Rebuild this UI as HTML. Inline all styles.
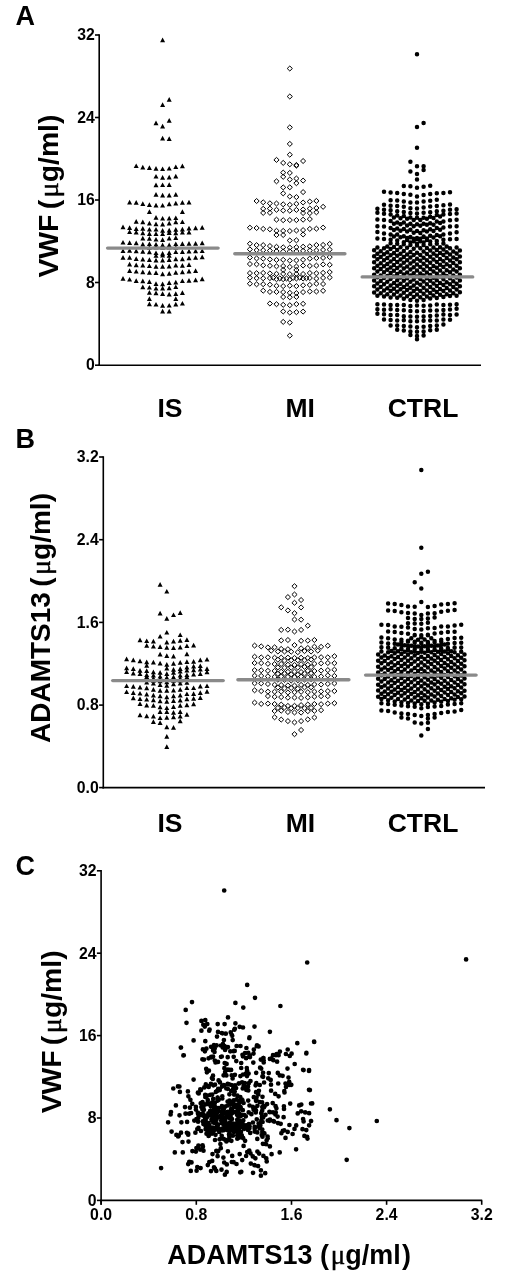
<!DOCTYPE html>
<html><head><meta charset="utf-8"><style>
html,body{margin:0;padding:0;background:#fff;}
svg{display:block;}
text{font-family:"Liberation Sans",Arial,sans-serif;font-weight:bold;fill:#000;}
.mu{font-family:"Liberation Serif","DejaVu Serif",serif;font-weight:normal;stroke:#000;stroke-width:0.45px;}
</style></head><body>
<svg width="511" height="1280" viewBox="0 0 511 1280">
<rect width="511" height="1280" fill="#fff"/>
<line x1="99.2" y1="34.2" x2="99.2" y2="366.0" stroke="#000" stroke-width="1.6"/>
<line x1="98.4" y1="365.2" x2="481.0" y2="365.2" stroke="#000" stroke-width="1.6"/>
<line x1="95.0" y1="35.0" x2="99.2" y2="35.0" stroke="#000" stroke-width="1.6"/>
<text x="94.8" y="40.2" font-size="15.8" text-anchor="end" >32</text>
<line x1="95.0" y1="117.5" x2="99.2" y2="117.5" stroke="#000" stroke-width="1.6"/>
<text x="94.8" y="122.8" font-size="15.8" text-anchor="end" >24</text>
<line x1="95.0" y1="200.0" x2="99.2" y2="200.0" stroke="#000" stroke-width="1.6"/>
<text x="94.8" y="205.2" font-size="15.8" text-anchor="end" >16</text>
<line x1="95.0" y1="282.5" x2="99.2" y2="282.5" stroke="#000" stroke-width="1.6"/>
<text x="94.8" y="287.8" font-size="15.8" text-anchor="end" >8</text>
<line x1="95.0" y1="365.2" x2="99.2" y2="365.2" stroke="#000" stroke-width="1.6"/>
<text x="94.8" y="370.4" font-size="15.8" text-anchor="end" >0</text>
<text x="15.5" y="24.6" font-size="27" text-anchor="start" >A</text>
<text x="170.0" y="416.6" font-size="26.5" text-anchor="middle" >IS</text>
<text x="300.2" y="416.6" font-size="26.5" text-anchor="middle" >MI</text>
<text x="423.0" y="416.6" font-size="26.5" text-anchor="middle" >CTRL</text>
<text transform="translate(57.6,196.1) rotate(-90)" font-size="28.3" text-anchor="middle">VWF <tspan dx="-2.5">(</tspan><tspan class="mu" dx="2.5">μ</tspan>g/ml)</text>
<path d="M162.6 37.5l2.5 4.7h-5zM169.2 97.1l2.5 4.7h-5zM162.6 102.3l2.5 4.7h-5zM169.2 118.0l2.5 4.7h-5zM156.0 120.6l2.5 4.7h-5zM162.6 123.8l2.5 4.7h-5zM162.6 135.7l2.5 4.7h-5zM169.2 136.2l2.5 4.7h-5zM136.2 163.4l2.5 4.7h-5zM142.8 164.7l2.5 4.7h-5zM149.4 165.2l2.5 4.7h-5zM156.0 166.1l2.5 4.7h-5zM162.6 166.4l2.5 4.7h-5zM169.2 165.9l2.5 4.7h-5zM175.8 164.4l2.5 4.7h-5zM182.4 163.6l2.5 4.7h-5zM156.0 173.9l2.5 4.7h-5zM162.6 175.1l2.5 4.7h-5zM169.2 174.7l2.5 4.7h-5zM175.8 173.7l2.5 4.7h-5zM156.0 182.5l2.5 4.7h-5zM162.6 182.4l2.5 4.7h-5zM169.2 182.3l2.5 4.7h-5zM156.0 192.1l2.5 4.7h-5zM162.6 192.8l2.5 4.7h-5zM169.2 192.7l2.5 4.7h-5zM175.8 192.1l2.5 4.7h-5zM129.6 199.8l2.5 4.7h-5zM136.2 200.0l2.5 4.7h-5zM142.8 201.3l2.5 4.7h-5zM149.4 202.2l2.5 4.7h-5zM156.0 202.8l2.5 4.7h-5zM162.6 202.9l2.5 4.7h-5zM169.2 201.6l2.5 4.7h-5zM175.8 200.7l2.5 4.7h-5zM182.4 200.0l2.5 4.7h-5zM189.0 199.7l2.5 4.7h-5zM149.4 209.3l2.5 4.7h-5zM182.4 209.2l2.5 4.7h-5zM156.0 215.1l2.5 4.7h-5zM162.6 215.9l2.5 4.7h-5zM169.2 215.7l2.5 4.7h-5zM175.8 215.4l2.5 4.7h-5zM136.2 219.1l2.5 4.7h-5zM142.8 219.5l2.5 4.7h-5zM149.4 220.7l2.5 4.7h-5zM156.0 221.5l2.5 4.7h-5zM162.6 221.8l2.5 4.7h-5zM169.2 220.8l2.5 4.7h-5zM175.8 219.6l2.5 4.7h-5zM182.4 219.4l2.5 4.7h-5zM123.0 224.5l2.5 4.7h-5zM129.6 225.3l2.5 4.7h-5zM136.2 226.2l2.5 4.7h-5zM142.8 226.1l2.5 4.7h-5zM149.4 226.9l2.5 4.7h-5zM156.0 226.9l2.5 4.7h-5zM162.6 228.1l2.5 4.7h-5zM169.2 227.7l2.5 4.7h-5zM175.8 227.0l2.5 4.7h-5zM182.4 226.8l2.5 4.7h-5zM189.0 225.7l2.5 4.7h-5zM195.6 225.6l2.5 4.7h-5zM202.2 225.0l2.5 4.7h-5zM129.6 229.4l2.5 4.7h-5zM136.2 229.7l2.5 4.7h-5zM142.8 230.6l2.5 4.7h-5zM149.4 231.2l2.5 4.7h-5zM156.0 231.2l2.5 4.7h-5zM162.6 231.4l2.5 4.7h-5zM169.2 230.3l2.5 4.7h-5zM175.8 230.5l2.5 4.7h-5zM182.4 229.9l2.5 4.7h-5zM189.0 229.8l2.5 4.7h-5zM142.8 235.7l2.5 4.7h-5zM149.4 236.0l2.5 4.7h-5zM156.0 236.9l2.5 4.7h-5zM162.6 237.2l2.5 4.7h-5zM169.2 235.7l2.5 4.7h-5zM175.8 235.3l2.5 4.7h-5zM123.0 239.9l2.5 4.7h-5zM129.6 240.2l2.5 4.7h-5zM136.2 240.6l2.5 4.7h-5zM142.8 241.7l2.5 4.7h-5zM149.4 241.4l2.5 4.7h-5zM156.0 241.9l2.5 4.7h-5zM162.6 242.5l2.5 4.7h-5zM169.2 242.6l2.5 4.7h-5zM175.8 241.4l2.5 4.7h-5zM182.4 241.3l2.5 4.7h-5zM189.0 241.0l2.5 4.7h-5zM195.6 241.0l2.5 4.7h-5zM202.2 240.5l2.5 4.7h-5zM149.4 245.0l2.5 4.7h-5zM156.0 244.7l2.5 4.7h-5zM162.6 245.1l2.5 4.7h-5zM169.2 244.8l2.5 4.7h-5zM175.8 245.0l2.5 4.7h-5zM123.0 248.4l2.5 4.7h-5zM129.6 248.1l2.5 4.7h-5zM136.2 248.6l2.5 4.7h-5zM142.8 249.1l2.5 4.7h-5zM149.4 249.6l2.5 4.7h-5zM156.0 250.4l2.5 4.7h-5zM162.6 251.0l2.5 4.7h-5zM169.2 250.2l2.5 4.7h-5zM175.8 249.4l2.5 4.7h-5zM182.4 249.3l2.5 4.7h-5zM189.0 248.8l2.5 4.7h-5zM195.6 248.5l2.5 4.7h-5zM202.2 248.4l2.5 4.7h-5zM156.0 253.1l2.5 4.7h-5zM162.6 252.9l2.5 4.7h-5zM169.2 253.0l2.5 4.7h-5zM123.0 255.1l2.5 4.7h-5zM129.6 255.0l2.5 4.7h-5zM136.2 256.3l2.5 4.7h-5zM142.8 256.7l2.5 4.7h-5zM149.4 257.3l2.5 4.7h-5zM156.0 257.7l2.5 4.7h-5zM162.6 257.8l2.5 4.7h-5zM169.2 257.3l2.5 4.7h-5zM175.8 256.5l2.5 4.7h-5zM182.4 256.5l2.5 4.7h-5zM189.0 255.5l2.5 4.7h-5zM195.6 255.0l2.5 4.7h-5zM202.2 254.6l2.5 4.7h-5zM129.6 261.7l2.5 4.7h-5zM136.2 262.5l2.5 4.7h-5zM142.8 262.8l2.5 4.7h-5zM149.4 263.4l2.5 4.7h-5zM156.0 264.1l2.5 4.7h-5zM162.6 264.1l2.5 4.7h-5zM169.2 263.7l2.5 4.7h-5zM175.8 262.8l2.5 4.7h-5zM182.4 263.0l2.5 4.7h-5zM189.0 262.2l2.5 4.7h-5zM129.6 268.3l2.5 4.7h-5zM136.2 268.9l2.5 4.7h-5zM142.8 269.5l2.5 4.7h-5zM149.4 270.0l2.5 4.7h-5zM156.0 270.3l2.5 4.7h-5zM162.6 271.5l2.5 4.7h-5zM169.2 271.1l2.5 4.7h-5zM175.8 270.1l2.5 4.7h-5zM182.4 269.6l2.5 4.7h-5zM189.0 268.7l2.5 4.7h-5zM195.6 268.3l2.5 4.7h-5zM123.0 276.0l2.5 4.7h-5zM129.6 276.9l2.5 4.7h-5zM136.2 278.3l2.5 4.7h-5zM142.8 278.6l2.5 4.7h-5zM149.4 279.3l2.5 4.7h-5zM156.0 281.2l2.5 4.7h-5zM162.6 281.6l2.5 4.7h-5zM169.2 280.3l2.5 4.7h-5zM175.8 279.8l2.5 4.7h-5zM182.4 278.4l2.5 4.7h-5zM189.0 278.0l2.5 4.7h-5zM195.6 277.6l2.5 4.7h-5zM202.2 276.6l2.5 4.7h-5zM142.8 284.5l2.5 4.7h-5zM149.4 284.9l2.5 4.7h-5zM156.0 285.9l2.5 4.7h-5zM162.6 285.7l2.5 4.7h-5zM169.2 285.5l2.5 4.7h-5zM175.8 284.4l2.5 4.7h-5zM149.4 290.1l2.5 4.7h-5zM156.0 290.5l2.5 4.7h-5zM162.6 291.3l2.5 4.7h-5zM169.2 291.8l2.5 4.7h-5zM175.8 291.2l2.5 4.7h-5zM182.4 290.2l2.5 4.7h-5zM149.4 296.2l2.5 4.7h-5zM175.8 296.2l2.5 4.7h-5zM149.4 301.6l2.5 4.7h-5zM156.0 301.9l2.5 4.7h-5zM162.6 303.1l2.5 4.7h-5zM169.2 302.9l2.5 4.7h-5zM175.8 301.7l2.5 4.7h-5zM182.4 300.9l2.5 4.7h-5zM162.6 308.7l2.5 4.7h-5zM169.2 308.7l2.5 4.7h-5z" fill="#000"/>
<path d="M289.8 66.0l2.6 2.5l-2.6 2.5l-2.6-2.5zM289.8 94.0l2.6 2.5l-2.6 2.5l-2.6-2.5zM289.8 124.9l2.6 2.5l-2.6 2.5l-2.6-2.5zM289.8 141.4l2.6 2.5l-2.6 2.5l-2.6-2.5zM289.8 152.2l2.6 2.5l-2.6 2.5l-2.6-2.5zM276.5 157.4l2.6 2.5l-2.6 2.5l-2.6-2.5zM283.2 160.4l2.6 2.5l-2.6 2.5l-2.6-2.5zM289.8 161.8l2.6 2.5l-2.6 2.5l-2.6-2.5zM296.4 162.5l2.6 2.5l-2.6 2.5l-2.6-2.5zM296.4 163.1l2.6 2.5l-2.6 2.5l-2.6-2.5zM303.1 158.5l2.6 2.5l-2.6 2.5l-2.6-2.5zM283.2 170.1l2.6 2.5l-2.6 2.5l-2.6-2.5zM289.8 170.4l2.6 2.5l-2.6 2.5l-2.6-2.5zM283.2 174.3l2.6 2.5l-2.6 2.5l-2.6-2.5zM296.4 176.0l2.6 2.5l-2.6 2.5l-2.6-2.5zM289.8 177.0l2.6 2.5l-2.6 2.5l-2.6-2.5zM276.5 178.8l2.6 2.5l-2.6 2.5l-2.6-2.5zM303.1 178.1l2.6 2.5l-2.6 2.5l-2.6-2.5zM296.4 180.7l2.6 2.5l-2.6 2.5l-2.6-2.5zM283.2 184.9l2.6 2.5l-2.6 2.5l-2.6-2.5zM289.8 184.8l2.6 2.5l-2.6 2.5l-2.6-2.5zM303.1 189.6l2.6 2.5l-2.6 2.5l-2.6-2.5zM283.2 190.9l2.6 2.5l-2.6 2.5l-2.6-2.5zM289.8 194.0l2.6 2.5l-2.6 2.5l-2.6-2.5zM296.4 194.6l2.6 2.5l-2.6 2.5l-2.6-2.5zM256.6 198.5l2.6 2.5l-2.6 2.5l-2.6-2.5zM263.2 199.8l2.6 2.5l-2.6 2.5l-2.6-2.5zM269.9 200.8l2.6 2.5l-2.6 2.5l-2.6-2.5zM276.5 201.0l2.6 2.5l-2.6 2.5l-2.6-2.5zM283.2 201.8l2.6 2.5l-2.6 2.5l-2.6-2.5zM289.8 202.3l2.6 2.5l-2.6 2.5l-2.6-2.5zM296.4 201.3l2.6 2.5l-2.6 2.5l-2.6-2.5zM303.1 200.0l2.6 2.5l-2.6 2.5l-2.6-2.5zM309.8 199.1l2.6 2.5l-2.6 2.5l-2.6-2.5zM316.4 198.4l2.6 2.5l-2.6 2.5l-2.6-2.5zM323.1 204.3l2.6 2.5l-2.6 2.5l-2.6-2.5zM263.2 206.3l2.6 2.5l-2.6 2.5l-2.6-2.5zM269.9 206.1l2.6 2.5l-2.6 2.5l-2.6-2.5zM276.5 207.3l2.6 2.5l-2.6 2.5l-2.6-2.5zM283.2 208.0l2.6 2.5l-2.6 2.5l-2.6-2.5zM289.8 208.2l2.6 2.5l-2.6 2.5l-2.6-2.5zM296.4 207.4l2.6 2.5l-2.6 2.5l-2.6-2.5zM303.1 207.0l2.6 2.5l-2.6 2.5l-2.6-2.5zM309.8 206.1l2.6 2.5l-2.6 2.5l-2.6-2.5zM316.4 205.5l2.6 2.5l-2.6 2.5l-2.6-2.5zM263.2 210.4l2.6 2.5l-2.6 2.5l-2.6-2.5zM269.9 210.3l2.6 2.5l-2.6 2.5l-2.6-2.5zM303.1 210.5l2.6 2.5l-2.6 2.5l-2.6-2.5zM309.8 210.6l2.6 2.5l-2.6 2.5l-2.6-2.5zM316.4 209.8l2.6 2.5l-2.6 2.5l-2.6-2.5zM276.5 217.2l2.6 2.5l-2.6 2.5l-2.6-2.5zM283.2 217.7l2.6 2.5l-2.6 2.5l-2.6-2.5zM289.8 217.6l2.6 2.5l-2.6 2.5l-2.6-2.5zM296.4 217.6l2.6 2.5l-2.6 2.5l-2.6-2.5zM303.1 217.2l2.6 2.5l-2.6 2.5l-2.6-2.5zM309.8 216.6l2.6 2.5l-2.6 2.5l-2.6-2.5zM249.9 225.2l2.6 2.5l-2.6 2.5l-2.6-2.5zM256.6 225.5l2.6 2.5l-2.6 2.5l-2.6-2.5zM263.2 226.4l2.6 2.5l-2.6 2.5l-2.6-2.5zM269.9 226.8l2.6 2.5l-2.6 2.5l-2.6-2.5zM276.5 228.3l2.6 2.5l-2.6 2.5l-2.6-2.5zM283.2 228.4l2.6 2.5l-2.6 2.5l-2.6-2.5zM289.8 228.5l2.6 2.5l-2.6 2.5l-2.6-2.5zM296.4 228.0l2.6 2.5l-2.6 2.5l-2.6-2.5zM303.1 227.6l2.6 2.5l-2.6 2.5l-2.6-2.5zM309.8 226.4l2.6 2.5l-2.6 2.5l-2.6-2.5zM316.4 226.2l2.6 2.5l-2.6 2.5l-2.6-2.5zM323.1 225.1l2.6 2.5l-2.6 2.5l-2.6-2.5zM276.5 232.5l2.6 2.5l-2.6 2.5l-2.6-2.5zM283.2 232.5l2.6 2.5l-2.6 2.5l-2.6-2.5zM303.1 232.0l2.6 2.5l-2.6 2.5l-2.6-2.5zM289.8 238.0l2.6 2.5l-2.6 2.5l-2.6-2.5zM296.4 237.8l2.6 2.5l-2.6 2.5l-2.6-2.5zM249.9 241.2l2.6 2.5l-2.6 2.5l-2.6-2.5zM256.6 242.6l2.6 2.5l-2.6 2.5l-2.6-2.5zM263.2 242.6l2.6 2.5l-2.6 2.5l-2.6-2.5zM269.9 243.5l2.6 2.5l-2.6 2.5l-2.6-2.5zM276.5 244.3l2.6 2.5l-2.6 2.5l-2.6-2.5zM283.2 244.8l2.6 2.5l-2.6 2.5l-2.6-2.5zM289.8 245.1l2.6 2.5l-2.6 2.5l-2.6-2.5zM296.4 244.7l2.6 2.5l-2.6 2.5l-2.6-2.5zM303.1 244.2l2.6 2.5l-2.6 2.5l-2.6-2.5zM309.8 243.8l2.6 2.5l-2.6 2.5l-2.6-2.5zM316.4 242.5l2.6 2.5l-2.6 2.5l-2.6-2.5zM323.1 242.4l2.6 2.5l-2.6 2.5l-2.6-2.5zM329.7 241.4l2.6 2.5l-2.6 2.5l-2.6-2.5zM249.9 246.9l2.6 2.5l-2.6 2.5l-2.6-2.5zM256.6 247.7l2.6 2.5l-2.6 2.5l-2.6-2.5zM263.2 247.7l2.6 2.5l-2.6 2.5l-2.6-2.5zM269.9 248.1l2.6 2.5l-2.6 2.5l-2.6-2.5zM276.5 248.6l2.6 2.5l-2.6 2.5l-2.6-2.5zM283.2 249.0l2.6 2.5l-2.6 2.5l-2.6-2.5zM289.8 248.8l2.6 2.5l-2.6 2.5l-2.6-2.5zM296.4 248.7l2.6 2.5l-2.6 2.5l-2.6-2.5zM303.1 248.3l2.6 2.5l-2.6 2.5l-2.6-2.5zM309.8 248.0l2.6 2.5l-2.6 2.5l-2.6-2.5zM316.4 247.9l2.6 2.5l-2.6 2.5l-2.6-2.5zM323.1 247.4l2.6 2.5l-2.6 2.5l-2.6-2.5zM329.7 247.1l2.6 2.5l-2.6 2.5l-2.6-2.5zM249.9 255.0l2.6 2.5l-2.6 2.5l-2.6-2.5zM256.6 255.9l2.6 2.5l-2.6 2.5l-2.6-2.5zM263.2 256.2l2.6 2.5l-2.6 2.5l-2.6-2.5zM269.9 256.9l2.6 2.5l-2.6 2.5l-2.6-2.5zM276.5 257.4l2.6 2.5l-2.6 2.5l-2.6-2.5zM283.2 257.3l2.6 2.5l-2.6 2.5l-2.6-2.5zM289.8 258.1l2.6 2.5l-2.6 2.5l-2.6-2.5zM296.4 257.9l2.6 2.5l-2.6 2.5l-2.6-2.5zM303.1 257.3l2.6 2.5l-2.6 2.5l-2.6-2.5zM309.8 256.1l2.6 2.5l-2.6 2.5l-2.6-2.5zM316.4 255.6l2.6 2.5l-2.6 2.5l-2.6-2.5zM323.1 255.4l2.6 2.5l-2.6 2.5l-2.6-2.5zM329.7 254.6l2.6 2.5l-2.6 2.5l-2.6-2.5zM249.9 261.5l2.6 2.5l-2.6 2.5l-2.6-2.5zM256.6 261.8l2.6 2.5l-2.6 2.5l-2.6-2.5zM263.2 262.8l2.6 2.5l-2.6 2.5l-2.6-2.5zM269.9 263.3l2.6 2.5l-2.6 2.5l-2.6-2.5zM276.5 263.8l2.6 2.5l-2.6 2.5l-2.6-2.5zM283.2 263.5l2.6 2.5l-2.6 2.5l-2.6-2.5zM289.8 264.4l2.6 2.5l-2.6 2.5l-2.6-2.5zM296.4 264.0l2.6 2.5l-2.6 2.5l-2.6-2.5zM303.1 263.0l2.6 2.5l-2.6 2.5l-2.6-2.5zM309.8 263.4l2.6 2.5l-2.6 2.5l-2.6-2.5zM316.4 263.1l2.6 2.5l-2.6 2.5l-2.6-2.5zM323.1 261.9l2.6 2.5l-2.6 2.5l-2.6-2.5zM329.7 262.3l2.6 2.5l-2.6 2.5l-2.6-2.5zM283.2 267.4l2.6 2.5l-2.6 2.5l-2.6-2.5zM296.4 267.5l2.6 2.5l-2.6 2.5l-2.6-2.5zM249.9 270.6l2.6 2.5l-2.6 2.5l-2.6-2.5zM256.6 270.7l2.6 2.5l-2.6 2.5l-2.6-2.5zM263.2 270.4l2.6 2.5l-2.6 2.5l-2.6-2.5zM269.9 270.9l2.6 2.5l-2.6 2.5l-2.6-2.5zM276.5 271.3l2.6 2.5l-2.6 2.5l-2.6-2.5zM283.2 271.4l2.6 2.5l-2.6 2.5l-2.6-2.5zM289.8 271.6l2.6 2.5l-2.6 2.5l-2.6-2.5zM296.4 271.4l2.6 2.5l-2.6 2.5l-2.6-2.5zM303.1 271.5l2.6 2.5l-2.6 2.5l-2.6-2.5zM309.8 270.5l2.6 2.5l-2.6 2.5l-2.6-2.5zM316.4 270.8l2.6 2.5l-2.6 2.5l-2.6-2.5zM323.1 270.3l2.6 2.5l-2.6 2.5l-2.6-2.5zM329.7 269.6l2.6 2.5l-2.6 2.5l-2.6-2.5zM249.9 275.2l2.6 2.5l-2.6 2.5l-2.6-2.5zM256.6 275.7l2.6 2.5l-2.6 2.5l-2.6-2.5zM263.2 275.8l2.6 2.5l-2.6 2.5l-2.6-2.5zM269.9 275.6l2.6 2.5l-2.6 2.5l-2.6-2.5zM276.5 276.7l2.6 2.5l-2.6 2.5l-2.6-2.5zM283.2 276.7l2.6 2.5l-2.6 2.5l-2.6-2.5zM289.8 277.1l2.6 2.5l-2.6 2.5l-2.6-2.5zM296.4 276.0l2.6 2.5l-2.6 2.5l-2.6-2.5zM303.1 276.0l2.6 2.5l-2.6 2.5l-2.6-2.5zM309.8 275.5l2.6 2.5l-2.6 2.5l-2.6-2.5zM316.4 276.1l2.6 2.5l-2.6 2.5l-2.6-2.5zM323.1 275.4l2.6 2.5l-2.6 2.5l-2.6-2.5zM329.7 275.0l2.6 2.5l-2.6 2.5l-2.6-2.5zM273.2 275.2l2.6 2.5l-2.6 2.5l-2.6-2.5zM279.8 275.9l2.6 2.5l-2.6 2.5l-2.6-2.5zM286.5 276.0l2.6 2.5l-2.6 2.5l-2.6-2.5zM293.1 275.4l2.6 2.5l-2.6 2.5l-2.6-2.5zM299.8 275.1l2.6 2.5l-2.6 2.5l-2.6-2.5zM306.4 275.7l2.6 2.5l-2.6 2.5l-2.6-2.5zM249.9 281.2l2.6 2.5l-2.6 2.5l-2.6-2.5zM256.6 281.8l2.6 2.5l-2.6 2.5l-2.6-2.5zM263.2 281.7l2.6 2.5l-2.6 2.5l-2.6-2.5zM269.9 282.2l2.6 2.5l-2.6 2.5l-2.6-2.5zM276.5 283.3l2.6 2.5l-2.6 2.5l-2.6-2.5zM283.2 283.6l2.6 2.5l-2.6 2.5l-2.6-2.5zM289.8 283.2l2.6 2.5l-2.6 2.5l-2.6-2.5zM296.4 283.6l2.6 2.5l-2.6 2.5l-2.6-2.5zM303.1 282.8l2.6 2.5l-2.6 2.5l-2.6-2.5zM309.8 282.4l2.6 2.5l-2.6 2.5l-2.6-2.5zM316.4 281.2l2.6 2.5l-2.6 2.5l-2.6-2.5zM323.1 281.5l2.6 2.5l-2.6 2.5l-2.6-2.5zM263.2 288.2l2.6 2.5l-2.6 2.5l-2.6-2.5zM269.9 289.4l2.6 2.5l-2.6 2.5l-2.6-2.5zM276.5 289.4l2.6 2.5l-2.6 2.5l-2.6-2.5zM283.2 289.6l2.6 2.5l-2.6 2.5l-2.6-2.5zM289.8 290.3l2.6 2.5l-2.6 2.5l-2.6-2.5zM296.4 290.6l2.6 2.5l-2.6 2.5l-2.6-2.5zM303.1 289.6l2.6 2.5l-2.6 2.5l-2.6-2.5zM309.8 289.0l2.6 2.5l-2.6 2.5l-2.6-2.5zM316.4 289.0l2.6 2.5l-2.6 2.5l-2.6-2.5zM323.1 288.3l2.6 2.5l-2.6 2.5l-2.6-2.5zM283.2 294.5l2.6 2.5l-2.6 2.5l-2.6-2.5zM289.8 294.8l2.6 2.5l-2.6 2.5l-2.6-2.5zM296.4 294.4l2.6 2.5l-2.6 2.5l-2.6-2.5zM269.9 301.0l2.6 2.5l-2.6 2.5l-2.6-2.5zM276.5 301.7l2.6 2.5l-2.6 2.5l-2.6-2.5zM283.2 302.3l2.6 2.5l-2.6 2.5l-2.6-2.5zM289.8 302.7l2.6 2.5l-2.6 2.5l-2.6-2.5zM296.4 301.6l2.6 2.5l-2.6 2.5l-2.6-2.5zM303.1 301.3l2.6 2.5l-2.6 2.5l-2.6-2.5zM283.2 309.0l2.6 2.5l-2.6 2.5l-2.6-2.5zM289.8 310.1l2.6 2.5l-2.6 2.5l-2.6-2.5zM296.4 309.7l2.6 2.5l-2.6 2.5l-2.6-2.5zM303.1 309.1l2.6 2.5l-2.6 2.5l-2.6-2.5zM283.2 319.4l2.6 2.5l-2.6 2.5l-2.6-2.5zM289.8 320.1l2.6 2.5l-2.6 2.5l-2.6-2.5zM289.8 333.1l2.6 2.5l-2.6 2.5l-2.6-2.5z" fill="none" stroke="#000" stroke-width="1.0"/>
<path d="M417.0 54.2h0M423.6 123.0h0M417.0 126.9h0M417.0 147.7h0M410.4 161.7h0M417.0 166.2h0M423.6 166.3h0M423.6 170.1h0M410.4 171.5h0M417.0 174.1h0M417.0 179.6h0M403.8 186.1h0M410.4 186.3h0M417.0 187.7h0M423.6 186.7h0M430.2 185.8h0M384.0 191.8h0M390.6 192.6h0M397.2 193.1h0M403.8 194.1h0M410.4 194.8h0M417.0 196.4h0M423.6 195.0h0M430.2 194.1h0M436.8 193.2h0M443.4 193.1h0M450.0 192.2h0M390.6 200.2h0M397.2 200.6h0M403.8 201.5h0M410.4 202.4h0M417.0 202.5h0M423.6 201.4h0M430.2 200.8h0M436.8 199.8h0M384.0 204.8h0M390.6 205.7h0M397.2 206.1h0M403.8 206.7h0M410.4 208.2h0M417.0 208.4h0M423.6 207.6h0M430.2 206.4h0M436.8 206.0h0M443.4 205.2h0M450.0 204.4h0M377.4 208.7h0M384.0 209.8h0M390.6 210.2h0M397.2 211.3h0M403.8 211.9h0M410.4 213.1h0M417.0 213.6h0M423.6 212.7h0M430.2 212.2h0M436.8 211.2h0M443.4 210.7h0M450.0 209.8h0M456.6 209.2h0M377.4 304.3h0M384.0 304.6h0M390.6 305.1h0M397.2 304.9h0M403.8 305.1h0M410.4 306.1h0M417.0 305.5h0M423.6 305.8h0M430.2 305.4h0M436.8 304.5h0M443.4 305.0h0M450.0 304.8h0M456.6 304.2h0M377.4 309.3h0M384.0 309.7h0M390.6 309.3h0M397.2 310.0h0M403.8 310.3h0M410.4 310.9h0M417.0 311.2h0M423.6 310.9h0M430.2 310.4h0M436.8 310.4h0M443.4 309.9h0M450.0 309.6h0M456.6 308.8h0M377.4 313.8h0M384.0 314.3h0M390.6 315.0h0M397.2 315.1h0M403.8 316.2h0M410.4 316.4h0M417.0 316.8h0M423.6 316.4h0M430.2 316.1h0M436.8 315.5h0M443.4 314.6h0M450.0 315.0h0M456.6 314.5h0M384.0 319.5h0M390.6 319.9h0M397.2 320.5h0M403.8 320.3h0M410.4 321.3h0M417.0 321.3h0M423.6 320.7h0M430.2 320.5h0M436.8 320.5h0M443.4 319.6h0M450.0 319.7h0M390.6 325.5h0M397.2 325.5h0M403.8 325.9h0M410.4 326.5h0M417.0 327.2h0M423.6 326.8h0M430.2 326.1h0M436.8 325.6h0M443.4 324.6h0M397.2 329.7h0M403.8 330.5h0M410.4 331.5h0M417.0 331.7h0M423.6 331.4h0M430.2 330.2h0M436.8 329.7h0M410.4 335.0h0M417.0 336.0h0M423.6 335.4h0M417.0 339.2h0M377.4 212.7h0M384.0 213.8h0M390.6 214.6h0M397.2 215.5h0M403.8 216.0h0M410.4 217.6h0M417.0 217.7h0M423.6 217.7h0M430.2 216.8h0M436.8 215.0h0M443.4 214.6h0M450.0 214.1h0M456.6 213.4h0M377.4 219.4h0M384.0 220.1h0M390.6 220.9h0M397.2 222.4h0M403.8 222.6h0M410.4 223.8h0M417.0 224.2h0M423.6 223.7h0M430.2 223.3h0M436.8 221.6h0M443.4 221.5h0M450.0 220.3h0M456.6 219.8h0M377.4 226.2h0M384.0 226.5h0M390.6 228.0h0M397.2 228.5h0M403.8 228.9h0M410.4 229.7h0M417.0 231.0h0M423.6 230.2h0M430.2 229.2h0M436.8 228.1h0M443.4 227.5h0M450.0 226.6h0M456.6 226.3h0M377.4 232.0h0M384.0 233.6h0M390.6 234.5h0M397.2 234.6h0M403.8 236.3h0M410.4 236.9h0M417.0 238.0h0M423.6 236.5h0M430.2 235.7h0M436.8 234.9h0M443.4 234.6h0M450.0 233.4h0M456.6 232.3h0M377.4 238.4h0M384.0 239.1h0M390.6 239.7h0M397.2 240.6h0M403.8 242.2h0M410.4 242.5h0M417.0 244.0h0M423.6 242.4h0M430.2 241.6h0M436.8 241.0h0M443.4 239.8h0M450.0 239.2h0M456.6 238.9h0M393.9 217.4h0M400.5 218.2h0M407.1 218.8h0M413.7 220.0h0M420.3 220.0h0M426.9 218.8h0M433.5 218.1h0M440.1 216.6h0M393.9 223.7h0M400.5 224.3h0M407.1 225.5h0M413.7 226.2h0M420.3 225.8h0M426.9 224.8h0M433.5 224.8h0M440.1 223.1h0M393.9 230.0h0M400.5 230.7h0M407.1 231.5h0M413.7 232.8h0M420.3 233.0h0M426.9 231.5h0M433.5 231.0h0M440.1 229.8h0M393.9 236.6h0M400.5 237.3h0M407.1 237.9h0M413.7 238.7h0M420.3 238.8h0M426.9 238.6h0M433.5 237.4h0M440.1 236.2h0M410.4 237.2h0M417.0 239.3h0M423.6 237.0h0M407.1 240.0h0M413.7 241.3h0M420.3 241.3h0M426.9 240.1h0M390.6 243.2h0M397.2 243.7h0M403.8 244.3h0M410.4 244.9h0M417.0 245.6h0M423.6 245.0h0M430.2 244.3h0M436.8 243.8h0M443.4 243.4h0M387.3 246.5h0M393.9 246.9h0M400.5 247.2h0M407.1 247.8h0M413.7 248.7h0M420.3 248.2h0M426.9 247.9h0M433.5 247.6h0M440.1 247.3h0M446.7 246.4h0M377.4 247.4h0M384.0 248.2h0M390.6 249.1h0M397.2 250.0h0M403.8 251.1h0M410.4 251.9h0M417.0 252.7h0M423.6 251.4h0M430.2 250.6h0M436.8 250.1h0M443.4 249.4h0M450.0 248.3h0M456.6 247.6h0M374.1 250.2h0M380.7 251.2h0M387.3 252.3h0M393.9 253.0h0M400.5 253.8h0M407.1 254.6h0M413.7 255.0h0M420.3 254.9h0M426.9 254.1h0M433.5 253.6h0M440.1 252.9h0M446.7 252.3h0M453.3 251.4h0M459.9 250.6h0M377.4 253.7h0M384.0 254.3h0M390.6 255.2h0M397.2 255.7h0M403.8 257.0h0M410.4 257.5h0M417.0 258.8h0M423.6 257.8h0M430.2 256.7h0M436.8 255.8h0M443.4 255.0h0M450.0 254.4h0M456.6 253.6h0M374.1 256.3h0M380.7 257.0h0M387.3 258.1h0M393.9 258.9h0M400.5 259.5h0M407.1 260.2h0M413.7 261.2h0M420.3 260.8h0M426.9 260.2h0M433.5 259.6h0M440.1 259.1h0M446.7 258.1h0M453.3 257.5h0M459.9 256.5h0M377.4 259.3h0M384.0 260.2h0M390.6 261.4h0M397.2 262.1h0M403.8 262.7h0M410.4 263.4h0M417.0 264.5h0M423.6 263.8h0M430.2 262.8h0M436.8 261.9h0M443.4 261.3h0M450.0 260.6h0M456.6 259.3h0M374.1 262.2h0M380.7 263.2h0M387.3 264.0h0M393.9 264.9h0M400.5 265.4h0M407.1 266.5h0M413.7 267.3h0M420.3 267.1h0M426.9 266.2h0M433.5 265.9h0M440.1 264.7h0M446.7 264.2h0M453.3 263.1h0M459.9 262.3h0M377.4 265.7h0M384.0 266.2h0M390.6 267.4h0M397.2 268.0h0M403.8 268.6h0M410.4 269.5h0M417.0 270.5h0M423.6 269.8h0M430.2 269.1h0M436.8 267.8h0M443.4 267.1h0M450.0 266.2h0M456.6 265.8h0M374.1 268.3h0M380.7 269.0h0M387.3 269.8h0M393.9 270.7h0M400.5 271.8h0M407.1 272.6h0M413.7 273.3h0M420.3 273.4h0M426.9 272.6h0M433.5 271.5h0M440.1 270.6h0M446.7 270.3h0M453.3 269.4h0M459.9 268.2h0M377.4 271.6h0M384.0 272.3h0M390.6 273.1h0M397.2 273.9h0M403.8 274.6h0M410.4 275.4h0M417.0 276.4h0M423.6 275.6h0M430.2 275.1h0M436.8 273.8h0M443.4 273.4h0M450.0 272.2h0M456.6 271.4h0M374.1 274.7h0M380.7 275.5h0M387.3 276.0h0M393.9 276.5h0M400.5 277.6h0M407.1 278.3h0M413.7 279.4h0M420.3 278.9h0M426.9 278.3h0M433.5 277.8h0M440.1 276.5h0M446.7 276.0h0M453.3 275.5h0M459.9 274.7h0M377.4 277.2h0M384.0 278.1h0M390.6 278.9h0M397.2 280.3h0M403.8 280.7h0M410.4 281.8h0M417.0 282.7h0M423.6 281.6h0M430.2 280.7h0M436.8 280.3h0M443.4 279.2h0M450.0 278.2h0M456.6 277.6h0M374.1 280.4h0M380.7 281.1h0M387.3 281.7h0M393.9 283.0h0M400.5 283.8h0M407.1 284.4h0M413.7 285.4h0M420.3 284.8h0M426.9 284.2h0M433.5 283.6h0M440.1 283.1h0M446.7 282.3h0M453.3 281.2h0M459.9 280.4h0M377.4 283.5h0M384.0 284.3h0M390.6 285.4h0M397.2 285.8h0M403.8 287.0h0M410.4 287.8h0M417.0 288.7h0M423.6 287.8h0M430.2 286.9h0M436.8 285.9h0M443.4 285.1h0M450.0 284.3h0M456.6 283.7h0M374.1 286.2h0M380.7 287.1h0M387.3 288.2h0M393.9 288.7h0M400.5 289.3h0M407.1 290.1h0M413.7 291.1h0M420.3 291.0h0M426.9 290.6h0M433.5 289.8h0M440.1 289.1h0M446.7 287.9h0M453.3 287.0h0M459.9 286.3h0M377.4 289.5h0M384.0 290.5h0M390.6 291.1h0M397.2 291.8h0M403.8 292.8h0M410.4 293.7h0M417.0 294.6h0M423.6 293.8h0M430.2 293.0h0M436.8 292.1h0M443.4 290.9h0M450.0 290.5h0M456.6 289.4h0M374.1 292.5h0M380.7 293.2h0M387.3 294.2h0M393.9 294.6h0M400.5 295.4h0M407.1 296.2h0M413.7 296.9h0M420.3 297.3h0M426.9 296.4h0M433.5 295.5h0M440.1 294.7h0M446.7 294.3h0M453.3 293.3h0M459.9 292.3h0M377.4 295.7h0M384.0 296.4h0M390.6 297.5h0M397.2 297.8h0M403.8 298.8h0M410.4 299.9h0M417.0 300.7h0M423.6 299.9h0M430.2 298.6h0M436.8 297.9h0M443.4 296.9h0M450.0 296.1h0M456.6 295.8h0" stroke="#000" stroke-width="4.5" stroke-linecap="round"/>
<line x1="107.6" y1="248.1" x2="218.1" y2="248.1" stroke="#8a8a8a" stroke-width="3.4" stroke-linecap="round"/>
<line x1="234.8" y1="253.7" x2="344.9" y2="253.7" stroke="#8a8a8a" stroke-width="3.4" stroke-linecap="round"/>
<line x1="362.2" y1="276.9" x2="472.7" y2="276.9" stroke="#8a8a8a" stroke-width="3.4" stroke-linecap="round"/>
<line x1="103.3" y1="456.2" x2="103.3" y2="788.4" stroke="#000" stroke-width="1.6"/>
<line x1="102.5" y1="787.6" x2="485.0" y2="787.6" stroke="#000" stroke-width="1.6"/>
<line x1="99.1" y1="457.0" x2="103.3" y2="457.0" stroke="#000" stroke-width="1.6"/>
<text x="98.8" y="462.2" font-size="15.8" text-anchor="end" >3.2</text>
<line x1="99.1" y1="539.7" x2="103.3" y2="539.7" stroke="#000" stroke-width="1.6"/>
<text x="98.8" y="545.0" font-size="15.8" text-anchor="end" >2.4</text>
<line x1="99.1" y1="622.4" x2="103.3" y2="622.4" stroke="#000" stroke-width="1.6"/>
<text x="98.8" y="627.6" font-size="15.8" text-anchor="end" >1.6</text>
<line x1="99.1" y1="705.1" x2="103.3" y2="705.1" stroke="#000" stroke-width="1.6"/>
<text x="98.8" y="710.4" font-size="15.8" text-anchor="end" >0.8</text>
<line x1="99.1" y1="787.6" x2="103.3" y2="787.6" stroke="#000" stroke-width="1.6"/>
<text x="98.8" y="792.9" font-size="15.8" text-anchor="end" >0.0</text>
<text x="15.5" y="447.8" font-size="27" text-anchor="start" >B</text>
<text x="170.0" y="832.2" font-size="26.5" text-anchor="middle" >IS</text>
<text x="300.5" y="832.2" font-size="26.5" text-anchor="middle" >MI</text>
<text x="423.0" y="832.2" font-size="26.5" text-anchor="middle" >CTRL</text>
<text transform="translate(49.5,618) rotate(-90)" font-size="28" text-anchor="middle">ADAMTS13 <tspan dx="-2.5">(</tspan><tspan class="mu" dx="2.5">μ</tspan>g/ml)</text>
<path d="M160.1 582.1l2.5 4.7h-5zM166.8 588.9l2.5 4.7h-5zM160.1 610.7l2.5 4.7h-5zM173.5 612.4l2.5 4.7h-5zM180.2 610.3l2.5 4.7h-5zM166.8 616.0l2.5 4.7h-5zM166.8 629.9l2.5 4.7h-5zM180.2 632.4l2.5 4.7h-5zM160.1 633.9l2.5 4.7h-5zM140.0 637.5l2.5 4.7h-5zM146.7 638.4l2.5 4.7h-5zM153.4 638.8l2.5 4.7h-5zM166.8 639.8l2.5 4.7h-5zM173.5 638.8l2.5 4.7h-5zM180.2 638.0l2.5 4.7h-5zM186.9 637.2l2.5 4.7h-5zM146.7 643.0l2.5 4.7h-5zM153.4 643.9l2.5 4.7h-5zM160.1 644.3l2.5 4.7h-5zM166.8 645.0l2.5 4.7h-5zM173.5 645.3l2.5 4.7h-5zM180.2 644.8l2.5 4.7h-5zM186.9 643.4l2.5 4.7h-5zM193.6 642.7l2.5 4.7h-5zM160.1 651.8l2.5 4.7h-5zM166.8 653.2l2.5 4.7h-5zM173.5 653.8l2.5 4.7h-5zM186.9 651.6l2.5 4.7h-5zM126.6 656.5l2.5 4.7h-5zM133.3 657.6l2.5 4.7h-5zM140.0 658.6l2.5 4.7h-5zM146.7 659.5l2.5 4.7h-5zM153.4 659.8l2.5 4.7h-5zM160.1 660.8l2.5 4.7h-5zM166.8 662.1l2.5 4.7h-5zM173.5 661.0l2.5 4.7h-5zM180.2 660.0l2.5 4.7h-5zM186.9 659.2l2.5 4.7h-5zM193.6 659.0l2.5 4.7h-5zM200.3 657.5l2.5 4.7h-5zM207.0 656.9l2.5 4.7h-5zM146.7 663.1l2.5 4.7h-5zM166.8 665.7l2.5 4.7h-5zM173.5 667.0l2.5 4.7h-5zM180.2 666.2l2.5 4.7h-5zM186.9 664.8l2.5 4.7h-5zM193.6 663.7l2.5 4.7h-5zM200.3 663.4l2.5 4.7h-5zM126.6 665.6l2.5 4.7h-5zM133.3 666.2l2.5 4.7h-5zM140.0 668.0l2.5 4.7h-5zM146.7 668.3l2.5 4.7h-5zM153.4 669.6l2.5 4.7h-5zM160.1 670.0l2.5 4.7h-5zM166.8 671.3l2.5 4.7h-5zM173.5 670.1l2.5 4.7h-5zM180.2 668.9l2.5 4.7h-5zM186.9 667.9l2.5 4.7h-5zM193.6 667.6l2.5 4.7h-5zM200.3 666.8l2.5 4.7h-5zM207.0 666.3l2.5 4.7h-5zM126.6 669.4l2.5 4.7h-5zM133.3 670.8l2.5 4.7h-5zM140.0 671.4l2.5 4.7h-5zM146.7 672.4l2.5 4.7h-5zM153.4 672.9l2.5 4.7h-5zM160.1 673.9l2.5 4.7h-5zM166.8 675.0l2.5 4.7h-5zM173.5 674.5l2.5 4.7h-5zM180.2 672.9l2.5 4.7h-5zM186.9 672.4l2.5 4.7h-5zM193.6 671.9l2.5 4.7h-5zM200.3 671.2l2.5 4.7h-5zM207.0 669.5l2.5 4.7h-5zM146.7 674.3l2.5 4.7h-5zM153.4 675.9l2.5 4.7h-5zM160.1 676.8l2.5 4.7h-5zM166.8 677.2l2.5 4.7h-5zM173.5 675.9l2.5 4.7h-5zM180.2 675.9l2.5 4.7h-5zM186.9 674.5l2.5 4.7h-5zM153.4 678.0l2.5 4.7h-5zM160.1 678.5l2.5 4.7h-5zM166.8 679.6l2.5 4.7h-5zM173.5 678.1l2.5 4.7h-5zM180.2 677.8l2.5 4.7h-5zM146.7 679.8l2.5 4.7h-5zM153.4 680.9l2.5 4.7h-5zM160.1 682.2l2.5 4.7h-5zM166.8 683.0l2.5 4.7h-5zM173.5 681.5l2.5 4.7h-5zM180.2 680.7l2.5 4.7h-5zM186.9 680.0l2.5 4.7h-5zM126.6 683.4l2.5 4.7h-5zM133.3 684.1l2.5 4.7h-5zM140.0 684.7l2.5 4.7h-5zM146.7 685.6l2.5 4.7h-5zM153.4 687.0l2.5 4.7h-5zM160.1 688.0l2.5 4.7h-5zM166.8 688.0l2.5 4.7h-5zM173.5 687.7l2.5 4.7h-5zM180.2 687.0l2.5 4.7h-5zM186.9 685.4l2.5 4.7h-5zM193.6 685.4l2.5 4.7h-5zM200.3 683.8l2.5 4.7h-5zM207.0 683.4l2.5 4.7h-5zM126.6 689.4l2.5 4.7h-5zM133.3 690.3l2.5 4.7h-5zM140.0 690.9l2.5 4.7h-5zM146.7 691.8l2.5 4.7h-5zM153.4 692.8l2.5 4.7h-5zM160.1 693.5l2.5 4.7h-5zM166.8 694.6l2.5 4.7h-5zM173.5 693.5l2.5 4.7h-5zM180.2 692.7l2.5 4.7h-5zM186.9 691.4l2.5 4.7h-5zM193.6 691.2l2.5 4.7h-5zM200.3 690.2l2.5 4.7h-5zM207.0 689.1l2.5 4.7h-5zM133.3 695.5l2.5 4.7h-5zM140.0 696.4l2.5 4.7h-5zM146.7 696.9l2.5 4.7h-5zM153.4 697.5l2.5 4.7h-5zM160.1 698.6l2.5 4.7h-5zM166.8 699.1l2.5 4.7h-5zM173.5 698.3l2.5 4.7h-5zM180.2 697.8l2.5 4.7h-5zM186.9 696.6l2.5 4.7h-5zM193.6 696.1l2.5 4.7h-5zM200.3 695.3l2.5 4.7h-5zM140.0 701.2l2.5 4.7h-5zM146.7 702.7l2.5 4.7h-5zM153.4 703.0l2.5 4.7h-5zM160.1 704.5l2.5 4.7h-5zM166.8 705.4l2.5 4.7h-5zM173.5 704.3l2.5 4.7h-5zM180.2 703.0l2.5 4.7h-5zM186.9 702.6l2.5 4.7h-5zM193.6 701.6l2.5 4.7h-5zM160.1 709.2l2.5 4.7h-5zM166.8 709.2l2.5 4.7h-5zM173.5 710.0l2.5 4.7h-5zM180.2 709.3l2.5 4.7h-5zM140.0 712.6l2.5 4.7h-5zM146.7 713.6l2.5 4.7h-5zM153.4 713.8l2.5 4.7h-5zM160.1 715.4l2.5 4.7h-5zM166.8 715.0l2.5 4.7h-5zM173.5 714.6l2.5 4.7h-5zM180.2 713.7l2.5 4.7h-5zM186.9 712.1l2.5 4.7h-5zM153.4 719.3l2.5 4.7h-5zM160.1 720.3l2.5 4.7h-5zM180.2 718.6l2.5 4.7h-5zM166.8 724.6l2.5 4.7h-5zM173.5 725.0l2.5 4.7h-5zM166.8 734.1l2.5 4.7h-5zM166.8 744.2l2.5 4.7h-5z" fill="#000"/>
<path d="M294.5 583.7l2.6 2.5l-2.6 2.5l-2.6-2.5zM294.5 592.0l2.6 2.5l-2.6 2.5l-2.6-2.5zM287.9 594.6l2.6 2.5l-2.6 2.5l-2.6-2.5zM301.1 597.5l2.6 2.5l-2.6 2.5l-2.6-2.5zM294.5 600.3l2.6 2.5l-2.6 2.5l-2.6-2.5zM281.2 604.8l2.6 2.5l-2.6 2.5l-2.6-2.5zM301.1 604.9l2.6 2.5l-2.6 2.5l-2.6-2.5zM287.9 607.9l2.6 2.5l-2.6 2.5l-2.6-2.5zM294.5 610.7l2.6 2.5l-2.6 2.5l-2.6-2.5zM294.5 617.0l2.6 2.5l-2.6 2.5l-2.6-2.5zM301.1 617.2l2.6 2.5l-2.6 2.5l-2.6-2.5zM307.8 623.2l2.6 2.5l-2.6 2.5l-2.6-2.5zM281.2 627.4l2.6 2.5l-2.6 2.5l-2.6-2.5zM287.9 627.2l2.6 2.5l-2.6 2.5l-2.6-2.5zM301.1 627.4l2.6 2.5l-2.6 2.5l-2.6-2.5zM294.5 629.0l2.6 2.5l-2.6 2.5l-2.6-2.5zM281.2 637.9l2.6 2.5l-2.6 2.5l-2.6-2.5zM287.9 637.5l2.6 2.5l-2.6 2.5l-2.6-2.5zM301.1 638.3l2.6 2.5l-2.6 2.5l-2.6-2.5zM307.8 638.1l2.6 2.5l-2.6 2.5l-2.6-2.5zM314.4 637.5l2.6 2.5l-2.6 2.5l-2.6-2.5zM294.5 642.6l2.6 2.5l-2.6 2.5l-2.6-2.5zM254.6 643.1l2.6 2.5l-2.6 2.5l-2.6-2.5zM261.2 643.9l2.6 2.5l-2.6 2.5l-2.6-2.5zM267.9 644.9l2.6 2.5l-2.6 2.5l-2.6-2.5zM274.6 644.8l2.6 2.5l-2.6 2.5l-2.6-2.5zM281.2 646.4l2.6 2.5l-2.6 2.5l-2.6-2.5zM287.9 646.7l2.6 2.5l-2.6 2.5l-2.6-2.5zM301.1 645.8l2.6 2.5l-2.6 2.5l-2.6-2.5zM307.8 645.5l2.6 2.5l-2.6 2.5l-2.6-2.5zM314.4 644.2l2.6 2.5l-2.6 2.5l-2.6-2.5zM321.1 644.3l2.6 2.5l-2.6 2.5l-2.6-2.5zM327.8 643.2l2.6 2.5l-2.6 2.5l-2.6-2.5zM271.2 648.2l2.6 2.5l-2.6 2.5l-2.6-2.5zM277.9 649.0l2.6 2.5l-2.6 2.5l-2.6-2.5zM284.5 649.0l2.6 2.5l-2.6 2.5l-2.6-2.5zM291.2 649.2l2.6 2.5l-2.6 2.5l-2.6-2.5zM297.8 649.7l2.6 2.5l-2.6 2.5l-2.6-2.5zM304.5 648.6l2.6 2.5l-2.6 2.5l-2.6-2.5zM311.1 649.0l2.6 2.5l-2.6 2.5l-2.6-2.5zM317.8 648.1l2.6 2.5l-2.6 2.5l-2.6-2.5zM254.6 654.2l2.6 2.5l-2.6 2.5l-2.6-2.5zM261.2 654.9l2.6 2.5l-2.6 2.5l-2.6-2.5zM267.9 654.8l2.6 2.5l-2.6 2.5l-2.6-2.5zM274.6 655.2l2.6 2.5l-2.6 2.5l-2.6-2.5zM281.2 655.1l2.6 2.5l-2.6 2.5l-2.6-2.5zM287.9 655.1l2.6 2.5l-2.6 2.5l-2.6-2.5zM294.5 655.4l2.6 2.5l-2.6 2.5l-2.6-2.5zM301.1 655.2l2.6 2.5l-2.6 2.5l-2.6-2.5zM307.8 655.4l2.6 2.5l-2.6 2.5l-2.6-2.5zM314.4 654.9l2.6 2.5l-2.6 2.5l-2.6-2.5zM321.1 654.7l2.6 2.5l-2.6 2.5l-2.6-2.5zM327.8 654.8l2.6 2.5l-2.6 2.5l-2.6-2.5zM334.4 653.7l2.6 2.5l-2.6 2.5l-2.6-2.5zM277.9 657.2l2.6 2.5l-2.6 2.5l-2.6-2.5zM284.5 658.1l2.6 2.5l-2.6 2.5l-2.6-2.5zM291.2 657.8l2.6 2.5l-2.6 2.5l-2.6-2.5zM297.8 657.8l2.6 2.5l-2.6 2.5l-2.6-2.5zM304.5 657.8l2.6 2.5l-2.6 2.5l-2.6-2.5zM311.1 657.1l2.6 2.5l-2.6 2.5l-2.6-2.5zM254.6 660.5l2.6 2.5l-2.6 2.5l-2.6-2.5zM261.2 660.6l2.6 2.5l-2.6 2.5l-2.6-2.5zM267.9 661.3l2.6 2.5l-2.6 2.5l-2.6-2.5zM274.6 661.6l2.6 2.5l-2.6 2.5l-2.6-2.5zM281.2 661.5l2.6 2.5l-2.6 2.5l-2.6-2.5zM287.9 662.2l2.6 2.5l-2.6 2.5l-2.6-2.5zM294.5 662.4l2.6 2.5l-2.6 2.5l-2.6-2.5zM301.1 661.7l2.6 2.5l-2.6 2.5l-2.6-2.5zM307.8 662.2l2.6 2.5l-2.6 2.5l-2.6-2.5zM314.4 661.2l2.6 2.5l-2.6 2.5l-2.6-2.5zM321.1 660.8l2.6 2.5l-2.6 2.5l-2.6-2.5zM327.8 660.5l2.6 2.5l-2.6 2.5l-2.6-2.5zM334.4 660.7l2.6 2.5l-2.6 2.5l-2.6-2.5zM277.9 664.9l2.6 2.5l-2.6 2.5l-2.6-2.5zM284.5 665.2l2.6 2.5l-2.6 2.5l-2.6-2.5zM291.2 665.2l2.6 2.5l-2.6 2.5l-2.6-2.5zM297.8 665.1l2.6 2.5l-2.6 2.5l-2.6-2.5zM304.5 664.4l2.6 2.5l-2.6 2.5l-2.6-2.5zM311.1 664.6l2.6 2.5l-2.6 2.5l-2.6-2.5zM254.6 667.7l2.6 2.5l-2.6 2.5l-2.6-2.5zM261.2 667.8l2.6 2.5l-2.6 2.5l-2.6-2.5zM267.9 668.3l2.6 2.5l-2.6 2.5l-2.6-2.5zM274.6 668.4l2.6 2.5l-2.6 2.5l-2.6-2.5zM281.2 669.2l2.6 2.5l-2.6 2.5l-2.6-2.5zM287.9 669.3l2.6 2.5l-2.6 2.5l-2.6-2.5zM294.5 669.1l2.6 2.5l-2.6 2.5l-2.6-2.5zM301.1 669.5l2.6 2.5l-2.6 2.5l-2.6-2.5zM307.8 668.3l2.6 2.5l-2.6 2.5l-2.6-2.5zM314.4 668.5l2.6 2.5l-2.6 2.5l-2.6-2.5zM321.1 668.1l2.6 2.5l-2.6 2.5l-2.6-2.5zM327.8 667.6l2.6 2.5l-2.6 2.5l-2.6-2.5zM334.4 667.2l2.6 2.5l-2.6 2.5l-2.6-2.5zM277.9 671.3l2.6 2.5l-2.6 2.5l-2.6-2.5zM284.5 670.9l2.6 2.5l-2.6 2.5l-2.6-2.5zM291.2 671.9l2.6 2.5l-2.6 2.5l-2.6-2.5zM297.8 672.2l2.6 2.5l-2.6 2.5l-2.6-2.5zM304.5 671.0l2.6 2.5l-2.6 2.5l-2.6-2.5zM311.1 670.7l2.6 2.5l-2.6 2.5l-2.6-2.5zM254.6 673.2l2.6 2.5l-2.6 2.5l-2.6-2.5zM261.2 673.4l2.6 2.5l-2.6 2.5l-2.6-2.5zM267.9 673.8l2.6 2.5l-2.6 2.5l-2.6-2.5zM274.6 674.3l2.6 2.5l-2.6 2.5l-2.6-2.5zM281.2 674.0l2.6 2.5l-2.6 2.5l-2.6-2.5zM287.9 674.4l2.6 2.5l-2.6 2.5l-2.6-2.5zM294.5 674.7l2.6 2.5l-2.6 2.5l-2.6-2.5zM301.1 674.1l2.6 2.5l-2.6 2.5l-2.6-2.5zM307.8 674.7l2.6 2.5l-2.6 2.5l-2.6-2.5zM314.4 674.3l2.6 2.5l-2.6 2.5l-2.6-2.5zM321.1 673.9l2.6 2.5l-2.6 2.5l-2.6-2.5zM327.8 672.9l2.6 2.5l-2.6 2.5l-2.6-2.5zM334.4 673.4l2.6 2.5l-2.6 2.5l-2.6-2.5zM277.9 677.2l2.6 2.5l-2.6 2.5l-2.6-2.5zM284.5 677.4l2.6 2.5l-2.6 2.5l-2.6-2.5zM291.2 678.0l2.6 2.5l-2.6 2.5l-2.6-2.5zM297.8 677.8l2.6 2.5l-2.6 2.5l-2.6-2.5zM304.5 677.1l2.6 2.5l-2.6 2.5l-2.6-2.5zM311.1 676.6l2.6 2.5l-2.6 2.5l-2.6-2.5zM254.6 680.8l2.6 2.5l-2.6 2.5l-2.6-2.5zM261.2 680.9l2.6 2.5l-2.6 2.5l-2.6-2.5zM267.9 681.5l2.6 2.5l-2.6 2.5l-2.6-2.5zM274.6 682.2l2.6 2.5l-2.6 2.5l-2.6-2.5zM281.2 682.5l2.6 2.5l-2.6 2.5l-2.6-2.5zM287.9 682.9l2.6 2.5l-2.6 2.5l-2.6-2.5zM294.5 683.1l2.6 2.5l-2.6 2.5l-2.6-2.5zM301.1 682.4l2.6 2.5l-2.6 2.5l-2.6-2.5zM307.8 682.4l2.6 2.5l-2.6 2.5l-2.6-2.5zM314.4 681.9l2.6 2.5l-2.6 2.5l-2.6-2.5zM321.1 682.0l2.6 2.5l-2.6 2.5l-2.6-2.5zM327.8 681.4l2.6 2.5l-2.6 2.5l-2.6-2.5zM334.4 680.9l2.6 2.5l-2.6 2.5l-2.6-2.5zM277.9 685.1l2.6 2.5l-2.6 2.5l-2.6-2.5zM284.5 685.9l2.6 2.5l-2.6 2.5l-2.6-2.5zM291.2 685.5l2.6 2.5l-2.6 2.5l-2.6-2.5zM297.8 686.2l2.6 2.5l-2.6 2.5l-2.6-2.5zM304.5 684.9l2.6 2.5l-2.6 2.5l-2.6-2.5zM311.1 684.8l2.6 2.5l-2.6 2.5l-2.6-2.5zM254.6 687.8l2.6 2.5l-2.6 2.5l-2.6-2.5zM261.2 688.6l2.6 2.5l-2.6 2.5l-2.6-2.5zM267.9 689.1l2.6 2.5l-2.6 2.5l-2.6-2.5zM274.6 689.2l2.6 2.5l-2.6 2.5l-2.6-2.5zM281.2 689.1l2.6 2.5l-2.6 2.5l-2.6-2.5zM287.9 690.0l2.6 2.5l-2.6 2.5l-2.6-2.5zM294.5 689.7l2.6 2.5l-2.6 2.5l-2.6-2.5zM301.1 689.3l2.6 2.5l-2.6 2.5l-2.6-2.5zM307.8 689.7l2.6 2.5l-2.6 2.5l-2.6-2.5zM314.4 689.1l2.6 2.5l-2.6 2.5l-2.6-2.5zM321.1 688.9l2.6 2.5l-2.6 2.5l-2.6-2.5zM327.8 688.6l2.6 2.5l-2.6 2.5l-2.6-2.5zM334.4 688.6l2.6 2.5l-2.6 2.5l-2.6-2.5zM267.9 693.6l2.6 2.5l-2.6 2.5l-2.6-2.5zM274.6 694.3l2.6 2.5l-2.6 2.5l-2.6-2.5zM281.2 694.6l2.6 2.5l-2.6 2.5l-2.6-2.5zM287.9 695.2l2.6 2.5l-2.6 2.5l-2.6-2.5zM294.5 695.1l2.6 2.5l-2.6 2.5l-2.6-2.5zM301.1 695.4l2.6 2.5l-2.6 2.5l-2.6-2.5zM307.8 694.9l2.6 2.5l-2.6 2.5l-2.6-2.5zM314.4 694.2l2.6 2.5l-2.6 2.5l-2.6-2.5zM321.1 693.7l2.6 2.5l-2.6 2.5l-2.6-2.5zM327.8 693.7l2.6 2.5l-2.6 2.5l-2.6-2.5zM254.6 700.1l2.6 2.5l-2.6 2.5l-2.6-2.5zM261.2 701.4l2.6 2.5l-2.6 2.5l-2.6-2.5zM267.9 701.1l2.6 2.5l-2.6 2.5l-2.6-2.5zM274.6 701.5l2.6 2.5l-2.6 2.5l-2.6-2.5zM281.2 702.1l2.6 2.5l-2.6 2.5l-2.6-2.5zM287.9 703.4l2.6 2.5l-2.6 2.5l-2.6-2.5zM294.5 703.3l2.6 2.5l-2.6 2.5l-2.6-2.5zM301.1 702.6l2.6 2.5l-2.6 2.5l-2.6-2.5zM307.8 702.0l2.6 2.5l-2.6 2.5l-2.6-2.5zM314.4 701.5l2.6 2.5l-2.6 2.5l-2.6-2.5zM321.1 701.7l2.6 2.5l-2.6 2.5l-2.6-2.5zM327.8 701.1l2.6 2.5l-2.6 2.5l-2.6-2.5zM334.4 700.7l2.6 2.5l-2.6 2.5l-2.6-2.5zM277.9 705.4l2.6 2.5l-2.6 2.5l-2.6-2.5zM284.5 705.0l2.6 2.5l-2.6 2.5l-2.6-2.5zM291.2 705.8l2.6 2.5l-2.6 2.5l-2.6-2.5zM297.8 705.6l2.6 2.5l-2.6 2.5l-2.6-2.5zM304.5 705.7l2.6 2.5l-2.6 2.5l-2.6-2.5zM311.1 705.4l2.6 2.5l-2.6 2.5l-2.6-2.5zM274.6 708.5l2.6 2.5l-2.6 2.5l-2.6-2.5zM281.2 708.2l2.6 2.5l-2.6 2.5l-2.6-2.5zM287.9 709.5l2.6 2.5l-2.6 2.5l-2.6-2.5zM294.5 710.0l2.6 2.5l-2.6 2.5l-2.6-2.5zM301.1 710.1l2.6 2.5l-2.6 2.5l-2.6-2.5zM307.8 708.7l2.6 2.5l-2.6 2.5l-2.6-2.5zM314.4 708.3l2.6 2.5l-2.6 2.5l-2.6-2.5zM321.1 707.7l2.6 2.5l-2.6 2.5l-2.6-2.5zM274.6 714.8l2.6 2.5l-2.6 2.5l-2.6-2.5zM281.2 717.1l2.6 2.5l-2.6 2.5l-2.6-2.5zM287.9 718.6l2.6 2.5l-2.6 2.5l-2.6-2.5zM294.5 719.9l2.6 2.5l-2.6 2.5l-2.6-2.5zM301.1 718.6l2.6 2.5l-2.6 2.5l-2.6-2.5zM307.8 716.9l2.6 2.5l-2.6 2.5l-2.6-2.5zM314.4 715.0l2.6 2.5l-2.6 2.5l-2.6-2.5zM301.1 727.5l2.6 2.5l-2.6 2.5l-2.6-2.5zM294.5 731.7l2.6 2.5l-2.6 2.5l-2.6-2.5z" fill="none" stroke="#000" stroke-width="1.0"/>
<path d="M421.3 470.1h0M421.3 547.7h0M427.9 571.8h0M421.3 573.7h0M414.7 582.2h0M421.3 588.4h0M421.3 602.1h0M388.1 603.6h0M394.7 604.1h0M401.4 604.9h0M408.0 606.4h0M414.7 606.8h0M427.9 607.1h0M434.6 606.0h0M441.2 604.6h0M447.9 604.1h0M454.6 603.3h0M388.1 610.6h0M394.7 611.1h0M401.4 612.3h0M408.0 613.0h0M414.7 613.5h0M421.3 615.0h0M427.9 613.4h0M434.6 613.2h0M441.2 611.7h0M447.9 610.7h0M454.6 610.1h0M408.0 617.9h0M414.7 619.0h0M421.3 618.9h0M427.9 618.5h0M434.6 617.6h0M408.0 623.2h0M414.7 623.4h0M421.3 623.7h0M427.9 622.7h0M381.4 624.8h0M388.1 625.1h0M394.7 626.6h0M401.4 626.8h0M408.0 627.6h0M414.7 628.9h0M421.3 629.5h0M427.9 628.3h0M434.6 628.0h0M441.2 626.6h0M447.9 626.4h0M454.6 625.5h0M461.2 624.7h0M388.1 631.5h0M394.7 632.1h0M401.4 633.0h0M408.0 633.8h0M414.7 635.2h0M421.3 635.2h0M427.9 635.2h0M434.6 633.5h0M441.2 632.8h0M447.9 632.0h0M454.6 631.8h0M381.4 637.5h0M388.1 638.2h0M394.7 639.5h0M401.4 639.7h0M408.0 640.8h0M414.7 641.7h0M421.3 642.8h0M427.9 642.0h0M434.6 641.0h0M441.2 639.8h0M447.9 639.0h0M454.6 638.0h0M461.2 637.8h0M381.4 642.6h0M388.1 643.5h0M394.7 643.8h0M401.4 644.9h0M408.0 646.1h0M414.7 646.8h0M421.3 647.2h0M427.9 646.7h0M434.6 646.2h0M441.2 644.7h0M447.9 643.8h0M454.6 643.1h0M461.2 642.7h0M381.4 647.3h0M388.1 647.5h0M394.7 648.3h0M401.4 649.2h0M408.0 650.2h0M414.7 651.2h0M421.3 651.7h0M427.9 651.0h0M434.6 650.0h0M441.2 650.0h0M447.9 648.9h0M454.6 647.4h0M461.2 647.4h0M381.4 699.1h0M388.1 700.2h0M394.7 701.6h0M401.4 702.3h0M408.0 703.1h0M414.7 703.6h0M421.3 704.2h0M427.9 703.8h0M434.6 702.5h0M441.2 701.7h0M447.9 701.0h0M454.6 699.8h0M461.2 699.3h0M381.4 703.2h0M388.1 704.0h0M394.7 704.7h0M401.4 705.6h0M408.0 706.3h0M414.7 706.8h0M421.3 708.2h0M427.9 707.1h0M434.6 706.6h0M441.2 705.9h0M447.9 704.6h0M454.6 703.9h0M461.2 703.2h0M381.4 710.4h0M388.1 711.0h0M394.7 712.4h0M401.4 713.4h0M408.0 714.1h0M414.7 714.9h0M421.3 715.9h0M427.9 714.9h0M434.6 714.0h0M441.2 713.0h0M447.9 712.0h0M454.6 711.4h0M461.2 710.0h0M401.4 717.4h0M408.0 718.6h0M427.9 718.5h0M434.6 717.6h0M414.7 722.6h0M421.3 723.6h0M427.9 722.8h0M427.9 728.9h0M421.3 735.4h0M414.7 635.1h0M421.3 637.3h0M427.9 634.8h0M411.3 638.3h0M418.0 639.7h0M424.6 639.5h0M431.3 638.2h0M401.4 641.7h0M408.0 641.8h0M414.7 642.8h0M421.3 643.2h0M427.9 642.9h0M434.6 642.3h0M441.2 641.4h0M398.0 644.4h0M404.7 645.2h0M411.3 645.8h0M418.0 646.4h0M424.6 646.3h0M431.3 645.8h0M437.9 645.4h0M444.6 644.6h0M388.1 647.7h0M394.7 648.5h0M401.4 648.4h0M408.0 649.1h0M414.7 649.3h0M421.3 650.0h0M427.9 649.2h0M434.6 649.3h0M441.2 648.5h0M447.9 647.9h0M454.6 647.7h0M391.4 650.9h0M398.0 651.2h0M404.7 651.8h0M411.3 652.3h0M418.0 652.9h0M424.6 652.7h0M431.3 652.2h0M437.9 651.7h0M444.6 651.6h0M451.2 651.3h0M381.4 651.5h0M388.1 652.2h0M394.7 653.3h0M401.4 653.9h0M408.0 654.7h0M414.7 655.4h0M421.3 656.7h0M427.9 655.9h0M434.6 654.9h0M441.2 654.0h0M447.9 653.2h0M454.6 652.2h0M461.2 651.8h0M378.1 654.4h0M384.7 655.4h0M391.4 656.2h0M398.0 657.0h0M404.7 657.6h0M411.3 658.2h0M418.0 659.1h0M424.6 658.9h0M431.3 658.5h0M437.9 657.5h0M444.6 657.0h0M451.2 655.9h0M457.9 655.2h0M464.5 654.4h0M381.4 657.5h0M388.1 658.1h0M394.7 658.9h0M401.4 660.1h0M408.0 660.7h0M414.7 661.5h0M421.3 662.4h0M427.9 661.7h0M434.6 660.8h0M441.2 660.1h0M447.9 659.3h0M454.6 658.3h0M461.2 657.8h0M378.1 660.7h0M384.7 661.0h0M391.4 662.2h0M398.0 663.1h0M404.7 663.7h0M411.3 664.1h0M418.0 665.3h0M424.6 665.2h0M431.3 664.1h0M437.9 663.3h0M444.6 663.1h0M451.2 662.1h0M457.9 661.1h0M464.5 660.3h0M381.4 663.3h0M388.1 664.2h0M394.7 665.3h0M401.4 665.9h0M408.0 666.6h0M414.7 667.9h0M421.3 668.7h0M427.9 667.5h0M434.6 667.1h0M441.2 666.1h0M447.9 665.3h0M454.6 664.4h0M461.2 663.7h0M378.1 666.7h0M384.7 667.5h0M391.4 667.9h0M398.0 668.9h0M404.7 669.6h0M411.3 670.5h0M418.0 671.1h0M424.6 671.3h0M431.3 670.4h0M437.9 669.4h0M444.6 668.6h0M451.2 667.8h0M457.9 667.3h0M464.5 666.2h0M381.4 669.5h0M388.1 670.1h0M394.7 671.2h0M401.4 672.0h0M408.0 672.9h0M414.7 673.9h0M421.3 674.2h0M427.9 673.9h0M434.6 672.8h0M441.2 672.0h0M447.9 671.3h0M454.6 670.5h0M461.2 669.4h0M378.1 672.5h0M384.7 673.5h0M391.4 673.8h0M398.0 674.9h0M404.7 675.7h0M411.3 676.1h0M418.0 677.2h0M424.6 677.2h0M431.3 676.6h0M437.9 675.5h0M444.6 675.1h0M451.2 674.0h0M457.9 673.3h0M464.5 672.7h0M381.4 675.2h0M388.1 676.5h0M394.7 677.2h0M401.4 677.9h0M408.0 679.1h0M414.7 679.6h0M421.3 680.5h0M427.9 679.7h0M434.6 679.0h0M441.2 677.8h0M447.9 677.1h0M454.6 676.3h0M461.2 675.5h0M378.1 678.7h0M384.7 679.1h0M391.4 680.2h0M398.0 680.7h0M404.7 681.6h0M411.3 682.2h0M418.0 683.1h0M424.6 683.4h0M431.3 682.4h0M437.9 681.8h0M444.6 680.7h0M451.2 679.9h0M457.9 679.1h0M464.5 678.6h0M381.4 681.6h0M388.1 682.5h0M394.7 682.9h0M401.4 684.1h0M408.0 685.1h0M414.7 685.7h0M421.3 686.2h0M427.9 685.5h0M434.6 684.5h0M441.2 683.8h0M447.9 683.4h0M454.6 682.4h0M461.2 681.6h0M378.1 684.7h0M384.7 685.5h0M391.4 686.1h0M398.0 686.9h0M404.7 687.7h0M411.3 688.5h0M418.0 689.2h0M424.6 689.2h0M431.3 688.2h0M437.9 687.7h0M444.6 686.8h0M451.2 686.2h0M457.9 685.0h0M464.5 684.3h0M381.4 687.2h0M388.1 688.5h0M394.7 689.4h0M401.4 690.1h0M408.0 690.8h0M414.7 691.9h0M421.3 692.7h0M427.9 691.7h0M434.6 690.7h0M441.2 689.9h0M447.9 689.1h0M454.6 688.2h0M461.2 687.5h0M378.1 690.6h0M384.7 691.5h0M391.4 691.8h0M398.0 692.8h0M404.7 693.3h0M411.3 694.1h0M418.0 695.3h0M424.6 695.2h0M431.3 694.6h0M437.9 693.5h0M444.6 692.5h0M451.2 692.0h0M457.9 691.3h0M464.5 690.8h0M381.4 693.8h0M388.1 694.3h0M394.7 695.1h0M401.4 695.8h0M408.0 696.9h0M414.7 697.5h0M421.3 698.3h0M427.9 697.4h0M434.6 696.5h0M441.2 696.1h0M447.9 694.9h0M454.6 694.6h0M461.2 693.3h0M378.1 696.7h0M384.7 697.0h0M391.4 697.7h0M398.0 698.9h0M404.7 699.4h0M411.3 700.5h0M418.0 700.9h0M424.6 700.8h0M431.3 700.5h0M437.9 699.7h0M444.6 699.0h0M451.2 698.2h0M457.9 697.0h0M464.5 696.6h0" stroke="#000" stroke-width="4.5" stroke-linecap="round"/>
<line x1="112.7" y1="680.6" x2="223.2" y2="680.6" stroke="#8a8a8a" stroke-width="3.4" stroke-linecap="round"/>
<line x1="237.9" y1="679.7" x2="348.9" y2="679.7" stroke="#8a8a8a" stroke-width="3.4" stroke-linecap="round"/>
<line x1="365.6" y1="675.1" x2="476.1" y2="675.1" stroke="#8a8a8a" stroke-width="3.4" stroke-linecap="round"/>
<line x1="101.1" y1="870.0" x2="101.1" y2="1201.2" stroke="#000" stroke-width="1.6"/>
<line x1="100.3" y1="1200.4" x2="482.2" y2="1200.4" stroke="#000" stroke-width="1.6"/>
<line x1="96.9" y1="870.8" x2="101.1" y2="870.8" stroke="#000" stroke-width="1.6"/>
<text x="96.6" y="876.0" font-size="15.8" text-anchor="end" >32</text>
<line x1="96.9" y1="953.2" x2="101.1" y2="953.2" stroke="#000" stroke-width="1.6"/>
<text x="96.6" y="958.5" font-size="15.8" text-anchor="end" >24</text>
<line x1="96.9" y1="1035.6" x2="101.1" y2="1035.6" stroke="#000" stroke-width="1.6"/>
<text x="96.6" y="1040.8" font-size="15.8" text-anchor="end" >16</text>
<line x1="96.9" y1="1118.0" x2="101.1" y2="1118.0" stroke="#000" stroke-width="1.6"/>
<text x="96.6" y="1123.2" font-size="15.8" text-anchor="end" >8</text>
<line x1="96.9" y1="1200.4" x2="101.1" y2="1200.4" stroke="#000" stroke-width="1.6"/>
<text x="96.6" y="1205.7" font-size="15.8" text-anchor="end" >0</text>
<line x1="101.1" y1="1200.4" x2="101.1" y2="1204.8" stroke="#000" stroke-width="1.6"/>
<line x1="101.1" y1="1200.4" x2="101.1" y2="1204.8" stroke="#000" stroke-width="1.6"/>
<text x="101.1" y="1219.7" font-size="15.8" text-anchor="middle" >0.0</text>
<line x1="196.3" y1="1200.4" x2="196.3" y2="1204.8" stroke="#000" stroke-width="1.6"/>
<text x="196.3" y="1219.7" font-size="15.8" text-anchor="middle" >0.8</text>
<line x1="291.5" y1="1200.4" x2="291.5" y2="1204.8" stroke="#000" stroke-width="1.6"/>
<text x="291.5" y="1219.7" font-size="15.8" text-anchor="middle" >1.6</text>
<line x1="386.6" y1="1200.4" x2="386.6" y2="1204.8" stroke="#000" stroke-width="1.6"/>
<text x="386.6" y="1219.7" font-size="15.8" text-anchor="middle" >2.4</text>
<line x1="481.7" y1="1200.4" x2="481.7" y2="1204.8" stroke="#000" stroke-width="1.6"/>
<text x="481.7" y="1219.7" font-size="15.8" text-anchor="middle" >3.2</text>
<text x="15.5" y="875.0" font-size="27" text-anchor="start" >C</text>
<path d="M224.2 890.5h0M307.2 962.5h0M466.1 959.4h0M247.2 984.9h0M192.0 1002.1h0M235.4 1002.9h0M255.0 997.8h0M243.3 1007.6h0M185.7 1009.9h0M280.4 1006.0h0M228.0 1017.4h0M186.5 1022.8h0M201.4 1020.9h0M205.3 1020.1h0M207.3 1024.0h0M203.3 1024.8h0M201.4 1030.7h0M209.2 1030.7h0M239.7 1026.8h0M249.5 1037.3h0M269.9 1031.8h0M193.6 1040.4h0M205.3 1041.2h0M297.3 1043.2h0M314.1 1041.6h0M181.0 1047.5h0M306.3 1053.4h0M183.8 1055.3h0M303.1 1069.8h0M309.0 1071.0h0M287.5 1068.6h0M285.5 1083.5h0M193.6 1079.6h0M218.0 1031.9h0M222.5 1033.3h0M225.8 1033.7h0M230.7 1032.3h0M234.3 1029.7h0M231.7 1034.8h0M217.0 1036.6h0M223.9 1040.1h0M232.7 1040.1h0M249.3 1038.2h0M180.8 1047.6h0M216.6 1045.4h0M222.9 1044.0h0M225.8 1047.0h0M236.6 1046.0h0M240.5 1046.0h0M246.4 1048.0h0M213.1 1050.5h0M204.9 1051.3h0M230.3 1051.3h0M183.4 1055.4h0M211.2 1056.8h0M221.0 1056.8h0M233.7 1056.8h0M242.5 1054.8h0M248.3 1052.8h0M161.1 1168.1h0M168.1 1122.3h0M174.8 1152.4h0M175.9 1105.4h0M200.6 1168.1h0M224.9 1174.7h0M253.0 1172.8h0M265.2 1173.2h0M258.1 1166.1h0M255.4 1158.3h0M279.7 1152.4h0M296.1 1149.3h0M285.5 1137.9h0M307.1 1136.8h0M306.3 1130.1h0M311.0 1121.1h0M311.0 1103.5h0M309.0 1089.8h0M299.2 1105.4h0M301.2 1111.3h0M303.1 1119.1h0M283.6 1117.2h0M289.4 1125.0h0M294.5 1128.9h0M282.8 1130.9h0M314.2 1042.0h0M306.4 1052.9h0M303.6 1070.1h0M309.1 1070.1h0M309.9 1090.1h0M312.2 1103.4h0M301.3 1104.6h0M305.2 1112.4h0M309.1 1113.2h0M329.9 1109.3h0M336.5 1120.2h0M349.4 1128.1h0M376.8 1121.0h0M346.7 1159.8h0M303.6 1121.4h0M311.1 1121.0h0M309.1 1125.3h0M302.5 1129.2h0M304.4 1135.9h0M307.5 1138.6h0M217.6 1097.7h0M238.1 1111.3h0M256.0 1110.6h0M227.1 1117.2h0M200.9 1090.1h0M239.4 1124.5h0M221.9 1106.2h0M239.1 1101.1h0M242.2 1123.3h0M203.4 1108.2h0M218.3 1108.0h0M229.4 1100.6h0M205.3 1097.0h0M205.5 1125.8h0M234.9 1074.8h0M229.4 1094.3h0M221.5 1123.1h0M255.8 1112.4h0M232.3 1102.7h0M178.0 1086.4h0M237.4 1095.7h0M215.5 1134.8h0M239.1 1105.7h0M212.2 1094.6h0M253.8 1097.2h0M223.2 1118.0h0M221.7 1135.8h0M190.4 1099.8h0M228.2 1113.6h0M242.7 1088.5h0M241.9 1099.6h0M217.4 1151.7h0M234.7 1091.4h0M240.1 1108.4h0M246.5 1128.6h0M227.6 1105.5h0M223.6 1075.3h0M226.4 1141.5h0M213.2 1098.9h0M227.8 1130.3h0M223.8 1085.1h0M214.8 1118.9h0M236.1 1088.0h0M226.5 1140.6h0M258.3 1094.4h0M199.8 1114.2h0M212.0 1110.8h0M228.2 1127.6h0M217.5 1100.7h0M203.9 1109.8h0M211.6 1115.9h0M292.6 1134.0h0M216.5 1123.1h0M198.7 1093.5h0M239.2 1137.2h0M209.2 1135.0h0M228.9 1117.6h0M265.5 1114.8h0M196.4 1119.0h0M220.8 1148.2h0M178.1 1136.5h0M227.7 1083.9h0M239.2 1113.9h0M237.2 1119.8h0M227.2 1123.8h0M248.9 1124.2h0M239.5 1102.5h0M267.1 1104.1h0M249.6 1126.5h0M215.0 1122.5h0M239.2 1113.5h0M195.9 1106.9h0M253.6 1109.8h0M205.6 1129.2h0M252.8 1156.4h0M238.3 1116.3h0M239.2 1120.3h0M196.4 1148.1h0M256.5 1097.6h0M258.8 1126.2h0M215.9 1091.9h0M230.6 1116.4h0M245.1 1140.8h0M252.8 1106.9h0M215.0 1140.0h0M224.0 1108.5h0M216.2 1129.4h0M240.6 1131.5h0M231.1 1128.6h0M243.2 1138.2h0M256.8 1119.3h0M225.4 1121.6h0M236.8 1111.4h0M262.1 1102.4h0M232.3 1110.6h0M214.5 1119.6h0M259.9 1102.0h0M207.6 1102.7h0M202.6 1145.3h0M194.3 1120.6h0M232.8 1127.0h0M254.6 1126.9h0M212.4 1113.7h0M234.9 1106.7h0M213.1 1122.5h0M218.2 1151.1h0M217.1 1126.4h0M205.2 1117.9h0M232.0 1111.9h0M230.6 1116.2h0M248.2 1100.6h0M229.3 1136.9h0M219.8 1130.5h0M229.5 1133.3h0M297.7 1113.4h0M232.0 1113.3h0M212.5 1154.1h0M255.1 1127.2h0M207.8 1165.1h0M261.4 1120.3h0M217.3 1125.3h0M263.2 1117.4h0M210.2 1115.1h0M181.0 1132.7h0M228.9 1140.0h0M232.1 1125.7h0M227.7 1088.8h0M226.3 1123.9h0M248.0 1129.9h0M206.7 1117.4h0M231.4 1140.8h0M213.4 1085.3h0M211.3 1111.0h0M254.7 1128.7h0M195.4 1132.7h0M259.5 1128.2h0M202.9 1146.7h0M239.6 1101.2h0M269.4 1120.8h0M181.4 1122.3h0M222.1 1128.5h0M233.4 1102.0h0M234.0 1131.8h0M221.8 1116.0h0M200.9 1114.6h0M212.9 1116.1h0M215.0 1084.7h0M235.8 1105.2h0M218.5 1099.9h0M223.6 1110.6h0M259.8 1085.0h0M198.3 1117.7h0M197.9 1112.7h0M278.0 1123.1h0M225.7 1128.3h0M236.2 1125.2h0M225.6 1112.9h0M250.2 1132.9h0M224.8 1120.2h0M201.2 1103.2h0M191.1 1113.0h0M257.3 1138.9h0M222.2 1111.6h0M241.0 1131.7h0M206.5 1116.9h0M238.9 1129.7h0M241.8 1135.3h0M231.1 1109.2h0M192.3 1103.8h0M243.6 1145.9h0M242.8 1110.2h0M188.2 1133.5h0M202.7 1114.1h0M257.4 1105.8h0M215.3 1128.3h0M212.1 1133.6h0M261.2 1113.2h0M256.4 1099.8h0M227.5 1112.1h0M171.0 1112.1h0M238.1 1111.5h0M197.3 1129.0h0M206.5 1133.7h0M243.8 1125.1h0M219.2 1116.9h0M259.1 1153.6h0M231.7 1075.3h0M197.9 1092.7h0M256.1 1092.2h0M252.9 1122.5h0M220.4 1144.0h0M219.6 1139.3h0M249.5 1105.5h0M223.4 1138.8h0M176.4 1134.9h0M219.3 1131.9h0M217.1 1109.7h0M179.9 1091.9h0M207.0 1115.8h0M198.1 1121.7h0M229.9 1124.4h0M235.4 1128.0h0M209.1 1125.2h0M223.9 1124.7h0M185.0 1107.1h0M202.5 1102.1h0M215.3 1107.2h0M217.7 1097.6h0M195.9 1109.6h0M205.7 1120.0h0M224.2 1129.7h0M202.9 1115.6h0M220.7 1115.6h0M198.4 1145.6h0M225.4 1139.9h0M206.3 1117.8h0M241.0 1115.8h0M225.2 1106.5h0M262.3 1131.9h0M216.5 1119.4h0M206.3 1129.6h0M222.6 1108.4h0M231.8 1162.0h0M222.6 1106.6h0M213.3 1131.3h0M210.4 1094.8h0M246.4 1090.0h0M189.3 1113.7h0M222.0 1086.6h0M187.1 1121.9h0M234.4 1130.6h0M201.1 1114.0h0M242.0 1126.8h0M238.4 1114.5h0M221.1 1111.6h0M224.1 1130.1h0M236.3 1106.6h0M216.9 1124.0h0M206.9 1129.1h0M241.0 1114.8h0M243.3 1120.4h0M227.9 1116.9h0M242.8 1124.3h0M215.9 1115.8h0M242.5 1100.3h0M214.6 1122.9h0M244.4 1115.1h0M232.0 1119.0h0M239.3 1137.5h0M237.1 1132.1h0M236.2 1123.7h0M221.2 1120.5h0M224.4 1124.4h0M222.5 1130.5h0M198.0 1113.8h0M234.8 1130.4h0M226.5 1116.2h0M225.5 1123.4h0M243.6 1103.0h0M207.8 1102.2h0M202.8 1121.3h0M238.0 1127.9h0M214.7 1103.4h0M218.0 1124.8h0M213.7 1102.9h0M234.9 1112.1h0M229.0 1134.4h0M237.3 1135.3h0M208.4 1113.3h0M244.3 1128.8h0M208.5 1123.1h0M237.0 1114.8h0M211.5 1119.8h0M202.9 1113.9h0M207.5 1116.6h0M212.7 1110.8h0M200.7 1103.3h0M235.0 1131.4h0M201.0 1131.0h0M204.9 1117.4h0M246.5 1125.3h0M209.4 1125.9h0M215.7 1110.9h0M210.2 1130.1h0M202.4 1109.4h0M232.7 1123.3h0M213.8 1107.2h0M237.7 1107.9h0M224.1 1113.4h0M202.7 1106.5h0M232.9 1135.7h0M240.6 1100.8h0M217.7 1124.7h0M212.9 1127.5h0M213.5 1120.3h0M213.8 1130.8h0M234.1 1106.0h0M208.7 1104.2h0M213.6 1128.8h0M226.2 1113.4h0M231.9 1130.1h0M236.0 1131.6h0M230.6 1104.7h0M238.6 1133.4h0M203.4 1124.1h0M238.4 1135.3h0M224.2 1124.6h0M236.4 1099.6h0M229.4 1135.0h0M206.4 1124.4h0M237.3 1138.7h0M227.6 1101.5h0M215.3 1112.2h0M205.6 1104.3h0M208.4 1133.4h0M214.8 1111.0h0M223.6 1124.5h0M237.6 1125.4h0M222.3 1098.5h0M212.5 1103.7h0M214.9 1120.5h0M204.2 1116.1h0M208.6 1135.9h0M239.1 1137.7h0M229.1 1117.8h0M208.9 1133.0h0M225.3 1118.4h0M212.1 1102.6h0M237.5 1104.6h0M233.7 1100.4h0M239.0 1107.4h0M210.2 1110.9h0M222.0 1112.8h0M198.5 1127.8h0M238.9 1113.7h0M224.9 1123.0h0M203.5 1114.3h0M245.8 1116.3h0M209.2 1130.0h0M240.6 1107.1h0M227.8 1111.9h0M217.9 1127.7h0M207.1 1123.4h0M216.9 1112.8h0M228.1 1130.0h0M249.4 1128.2h0M201.4 1107.0h0M230.1 1122.3h0M210.8 1106.2h0M207.8 1100.1h0M231.1 1069.9h0M225.1 1049.9h0M214.7 1048.5h0M243.1 1074.5h0M211.3 1057.3h0M232.6 1078.5h0M206.2 1068.9h0M238.7 1083.6h0M213.6 1050.1h0M240.3 1097.0h0M229.7 1084.5h0M206.4 1048.7h0M231.4 1085.0h0M226.3 1088.5h0M234.7 1050.9h0M235.0 1085.3h0M243.6 1086.1h0M247.0 1076.1h0M202.9 1049.4h0M245.0 1053.2h0M226.1 1047.7h0M208.6 1058.3h0M227.9 1069.6h0M212.8 1078.9h0M241.2 1063.0h0M204.3 1087.4h0M207.4 1086.1h0M219.8 1090.1h0M224.5 1046.1h0M220.0 1082.4h0M206.9 1072.3h0M227.9 1047.1h0M229.8 1069.9h0M250.5 1081.0h0M215.5 1062.4h0M222.3 1096.3h0M200.3 1089.3h0M236.3 1061.1h0M218.2 1088.9h0M233.1 1089.0h0M225.1 1072.1h0M224.7 1063.1h0M246.1 1058.2h0M213.4 1046.7h0M240.4 1076.1h0M218.0 1061.9h0M217.1 1090.9h0M222.7 1047.4h0M204.0 1059.6h0M233.7 1051.2h0M227.7 1057.2h0M205.8 1084.4h0M211.9 1078.1h0M242.1 1082.3h0M246.8 1087.2h0M242.9 1056.3h0M231.2 1090.9h0M210.9 1083.8h0M221.0 1045.6h0M226.6 1063.9h0M224.4 1068.2h0M207.6 1095.6h0M202.4 1059.3h0M208.7 1087.0h0M208.9 1070.7h0M226.4 1075.4h0M218.6 1080.4h0M239.0 1083.4h0M246.1 1073.4h0M247.1 1070.5h0M234.1 1094.6h0M214.0 1045.2h0M213.0 1075.7h0M214.5 1051.9h0M211.1 1046.8h0M205.2 1094.9h0M224.6 1085.3h0M221.8 1056.5h0M241.2 1068.0h0M246.8 1068.1h0M249.7 1055.4h0M214.8 1060.5h0M213.1 1056.5h0M250.0 1057.1h0M244.8 1083.1h0M284.3 1091.2h0M290.2 1103.6h0M263.5 1058.0h0M284.2 1130.3h0M263.7 1062.4h0M256.8 1046.2h0M291.6 1053.7h0M256.2 1072.8h0M287.7 1131.9h0M251.4 1114.2h0M249.0 1083.0h0M263.1 1072.8h0M289.8 1056.0h0M269.9 1058.9h0M279.8 1075.4h0M273.3 1060.2h0M294.7 1064.0h0M257.0 1045.4h0M268.2 1078.3h0M248.3 1090.4h0M270.0 1119.5h0M278.2 1083.5h0M289.1 1082.9h0M256.0 1100.8h0M289.2 1081.8h0M260.3 1125.7h0M284.0 1108.9h0M261.2 1068.6h0M296.2 1125.4h0M263.3 1058.1h0M276.4 1108.3h0M262.3 1107.0h0M260.8 1059.6h0M275.2 1093.9h0M277.1 1061.7h0M258.9 1090.8h0M273.0 1055.2h0M280.7 1123.8h0M288.5 1077.5h0M285.9 1054.0h0M262.6 1122.0h0M270.7 1079.9h0M291.3 1084.8h0M283.9 1106.3h0M263.1 1076.8h0M263.7 1060.5h0M275.8 1112.5h0M260.3 1125.4h0M249.5 1055.7h0M268.8 1073.1h0M248.7 1112.3h0M258.6 1123.5h0M261.7 1135.1h0M262.4 1076.4h0M277.6 1116.6h0M262.3 1129.6h0M286.0 1086.9h0M271.0 1084.7h0M284.5 1092.5h0M282.6 1075.8h0M171.6 1131.6h0M187.9 1091.4h0M188.2 1134.7h0M186.9 1132.8h0M185.5 1113.7h0M188.5 1141.6h0M173.3 1088.5h0M189.9 1107.7h0M179.5 1115.3h0M182.5 1142.1h0M188.4 1096.3h0M170.6 1114.5h0M178.8 1135.7h0M179.4 1086.5h0M209.3 1162.1h0M212.2 1160.9h0M246.1 1156.0h0M257.4 1151.6h0M221.5 1169.7h0M190.8 1170.9h0M233.6 1162.2h0M241.3 1171.8h0M200.2 1149.6h0M195.9 1151.6h0M240.2 1172.3h0M203.5 1150.7h0M254.5 1165.2h0M211.0 1171.1h0M214.0 1167.3h0M266.3 1158.4h0M239.7 1154.1h0M224.2 1162.5h0M196.6 1170.7h0M271.6 1154.2h0M215.0 1168.7h0M188.2 1164.1h0M232.2 1155.9h0M260.9 1170.3h0M182.8 1152.4h0M263.4 1155.9h0M223.4 1157.6h0M250.8 1163.6h0M189.3 1161.8h0M227.9 1151.3h0M242.2 1160.1h0M216.3 1150.9h0M260.9 1175.7h0M226.7 1171.9h0M192.4 1151.1h0M226.8 1164.4h0M217.6 1156.2h0M197.3 1167.1h0M266.7 1161.4h0M247.2 1152.0h0M249.3 1150.7h0M216.3 1170.9h0M191.5 1162.4h0M250.5 1153.3h0M236.5 1164.0h0M234.9 1028.8h0M221.8 1033.0h0M217.7 1024.1h0M235.4 1023.3h0M204.8 1026.6h0M254.5 1026.6h0M224.6 1024.1h0M232.2 1035.8h0M243.0 1027.5h0M209.6 1029.5h0M262.5 1136.7h0M274.1 1121.6h0M267.6 1136.5h0M266.1 1144.2h0M264.0 1107.3h0M273.5 1121.2h0M254.7 1131.6h0M266.6 1140.4h0M275.4 1114.5h0M255.0 1108.3h0M271.1 1090.7h0M267.7 1138.2h0M262.2 1110.7h0M257.3 1132.4h0M264.4 1133.4h0M262.5 1096.8h0M275.6 1106.2h0M264.7 1106.1h0M269.4 1111.8h0M269.9 1146.4h0M261.2 1121.4h0M259.8 1125.5h0M272.7 1103.1h0M269.9 1112.2h0M278.6 1096.3h0M261.9 1116.8h0M267.8 1120.5h0M273.0 1112.3h0M281.4 1133.2h0M262.9 1143.8h0M278.6 1055.2h0M258.6 1046.4h0M271.5 1058.4h0M277.8 1072.9h0M256.3 1083.2h0M276.6 1054.1h0M287.7 1049.5h0M248.6 1073.6h0M264.1 1082.5h0M253.5 1053.6h0M248.0 1086.4h0M289.8 1085.0h0M253.8 1049.6h0M255.6 1085.3h0M260.1 1067.7h0M279.9 1051.6h0M253.3 1062.6h0M276.0 1055.2h0" stroke="#000" stroke-width="4.7" stroke-linecap="round"/>
<text transform="translate(167.3,1263.8) scale(0.962,1)" font-size="28">ADAMTS13 (<tspan class="mu" dx="2">μ</tspan>g/ml<tspan dx="1.5">)</tspan></text>
<text transform="translate(61.4,1031.9) rotate(-90)" font-size="28.3" text-anchor="middle">VWF <tspan dx="-2.5">(</tspan><tspan class="mu" dx="2.5">μ</tspan>g/ml)</text>
</svg></body></html>
